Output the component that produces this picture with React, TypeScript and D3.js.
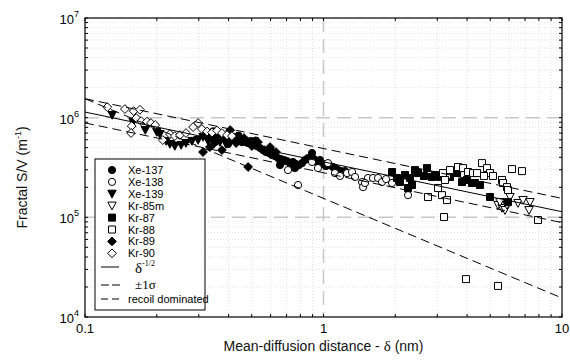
import React from 'react';
import * as d3 from 'd3';

type Pt = [number, number];

// Mean-diffusion distance δ (nm), Fractal S/V (m^-1)
const xe137: Pt[] = [
  [0.322, 6.85e5], [0.331, 6.24e5], [0.341, 7.01e5], [0.351, 6.39e5], [0.361, 6.69e5],
  [0.372, 6.10e5], [0.383, 6.54e5], [0.394, 6.24e5], [0.406, 5.96e5], [0.417, 6.39e5],
  [0.430, 5.83e5], [0.442, 6.10e5], [0.455, 5.69e5], [0.469, 5.96e5], [0.483, 5.56e5],
  [0.497, 5.83e5], [0.511, 5.44e5], [0.526, 5.19e5], [0.542, 4.96e5], [0.558, 4.73e5],
  [0.574, 4.52e5], [0.591, 4.42e5], [0.608, 4.22e5], [0.626, 4.12e5], [0.645, 3.93e5],
  [0.663, 3.84e5], [0.683, 3.76e5], [0.703, 3.67e5], [0.724, 3.50e5], [0.745, 3.59e5],
  [0.767, 3.42e5], [0.789, 3.35e5], [0.813, 3.50e5], [0.836, 3.76e5], [0.861, 3.93e5],
  [0.886, 4.03e5], [0.912, 3.84e5], [0.939, 3.59e5], [0.967, 3.76e5], [1.0, 3.42e5],
  [1.024, 3.27e5], [1.055, 3.35e5], [1.096, 3.20e5], [1.139, 3.05e5], [1.184, 2.91e5],
  [1.231, 2.91e5], [0.895, 4.42e5], [0.657, 3.35e5], [0.759, 3.12e5], [0.351, 5.69e5],
  [0.398, 5.44e5], [0.345, 7.3e5], [0.44, 6.6e5], [0.52, 5.9e5], [0.6, 4.8e5],
];
const xe138: Pt[] = [
  [0.710, 2.98e5], [0.782, 2.11e5], [0.895, 3.59e5], [1.044, 3.50e5], [1.117, 2.78e5],
  [1.255, 2.78e5], [1.317, 2.85e5], [1.356, 2.54e5], [1.451, 2.26e5], [1.465, 2.01e5],
  [1.537, 2.48e5], [1.613, 2.48e5], [1.693, 2.48e5], [1.759, 2.26e5], [1.938, 2.21e5],
  [2.262, 1.67e5], [0.948, 3.12e5], [1.173, 2.60e5], [1.829, 2.42e5], [1.493, 2.21e5],
];
const xe139: Pt[] = [
  [0.130, 1.062e6], [0.159, 9.04e5], [0.179, 7.51e5], [0.200, 7.17e5], [0.206, 6.85e5],
  [0.219, 5.83e5], [0.227, 5.44e5], [0.238, 5.19e5], [0.253, 5.31e5], [0.265, 5.56e5],
  [0.281, 5.83e5], [0.298, 5.96e5], [0.3125, 6.39e5], [0.328, 5.83e5], [0.348, 5.44e5],
  [0.368, 5.69e5], [0.390, 5.44e5],
];
const kr85m: Pt[] = [
  [5.391, 1.33e5], [5.604, 1.24e5], [5.768, 1.18e5], [6.053, 1.60e5], [6.54, 1.39e5],
  [6.864, 1.49e5], [7.342, 1.42e5], [7.272, 1.18e5], [5.496, 1.42e5], [5.88, 1.33e5],
];
const kr87: Pt[] = [
  [1.938, 2.85e5], [2.033, 2.48e5], [2.093, 2.26e5], [2.197, 2.66e5], [2.305, 2.48e5],
  [2.35, 2.11e5], [2.262, 1.97e5], [2.419, 2.98e5], [2.491, 2.78e5], [2.716, 3.12e5],
  [2.851, 2.54e5], [2.935, 2.66e5], [3.08, 2.54e5], [3.392, 2.54e5], [3.629, 2.78e5],
  [3.809, 2.26e5], [3.997, 2.37e5], [4.195, 2.21e5], [4.318, 2.21e5], [4.532, 2.11e5],
  [4.99, 1.60e5], [5.938, 1.42e5], [2.639, 2.60e5],
];
const kr88: Pt[] = [
  [2.743, 1.60e5], [3.021, 1.97e5], [3.14, 1.67e5], [3.295, 1.49e5], [3.202, 1.007e5],
  [3.295, 2.66e5], [3.17, 2.78e5], [3.392, 2.98e5], [3.664, 3.20e5], [3.846, 3.12e5],
  [4.036, 2.85e5], [4.236, 2.78e5], [4.402, 2.78e5], [4.619, 3.50e5], [4.848, 3.12e5],
  [4.99, 2.78e5], [5.136, 2.60e5], [5.604, 2.37e5], [5.658, 2.21e5], [5.88, 2.01e5],
  [5.938, 1.88e5], [6.17, 3.05e5], [6.798, 2.91e5], [7.933, 9.4e4], [3.958, 2.40e4],
  [5.391, 2.05e4], [3.233, 2.37e5], [4.71, 2.60e5],
];
const kr89: Pt[] = [
  [0.3125, 4.52e5], [0.483, 3.20e5], [0.430, 5.56e5], [0.464, 6.24e5], [0.501, 5.19e5],
  [0.531, 5.69e5], [0.563, 4.73e5], [0.597, 5.07e5], [0.334, 5.07e5], [0.375, 4.73e5],
  [0.632, 4.52e5], [0.406, 7.51e5],
];
const kr90: Pt[] = [
  [0.124, 1.277e6], [0.147, 1.22e6], [0.160, 1.164e6], [0.170, 1.20e6], [0.157, 8.24e5],
  [0.156, 7.01e5], [0.164, 9.91e5], [0.172, 9.25e5], [0.182, 9.14e5], [0.189, 8.83e5],
  [0.197, 8.43e5], [0.212, 5.96e5], [0.227, 6.85e5], [0.238, 6.54e5], [0.250, 6.69e5],
  [0.265, 7.01e5], [0.284, 8.05e5], [0.298, 8.83e5], [0.309, 7.69e5], [0.325, 7.26e5],
  [0.341, 7.09e5], [0.358, 7.43e5], [0.375, 7.01e5], [0.394, 6.69e5], [0.413, 6.54e5],
];

const seriesNames = ['Xe-137', 'Xe-138', 'Xe-139', 'Kr-85m', 'Kr-87', 'Kr-88', 'Kr-89', 'Kr-90'];
const seriesData = [xe137, xe138, xe139, kr85m, kr87, kr88, kr89, kr90];
const seriesShapes = ['circle', 'circle', 'tri', 'tri', 'square', 'square', 'diamond', 'diamond'];
const seriesFilled = [true, false, true, false, true, false, true, false];

// fitted curves: S = coef * δ^exp
const fitCoef = [3.6e5, 4.9e5, 2.8e5, 1.55e5];
const fitExp = [-0.5, -0.5, -0.5, -1];
const fitDash = ['none', '9,5', '9,5', '9,5'];

const xTicks = [0.1, 1, 10];
const xTickLabels = ['0.1', '1', '10'];
const yTicks = [1e4, 1e5, 1e6, 1e7];
const yTickExps = ['4', '5', '6', '7'];

const SANS = 'Arial, "Liberation Sans", Helvetica, sans-serif';
const SERIF = '"Times New Roman", "Liberation Serif", serif';

function shapePath(shape: string, cx: number, cy: number): string {
  if (shape === 'circle') {
    const r = 3.6;
    return `M${cx - r},${cy}a${r},${r} 0 1,0 ${2 * r},0a${r},${r} 0 1,0 ${-2 * r},0Z`;
  }
  if (shape === 'square') {
    const h = 3.5;
    return `M${cx - h},${cy - h}h${2 * h}v${2 * h}h${-2 * h}Z`;
  }
  if (shape === 'tri') {
    const w = 4.2, h = 3.6;
    return `M${cx - w},${cy - h}L${cx + w},${cy - h}L${cx},${cy + h + 0.6}Z`;
  }
  const d = 4.4;
  return `M${cx},${cy - d}L${cx + d},${cy}L${cx},${cy + d}L${cx - d},${cy}Z`;
}

export default function App() {
  const W = 570, H = 360;
  const L = 85, R = 562, T = 18, B = 317;
  const x = d3.scaleLog().domain([0.1, 10]).range([L, R]);
  const y = d3.scaleLog().domain([1e4, 1e7]).range([B, T]);

  const xAll = x.ticks();
  const yAll = y.ticks();
  const xMinor = xAll.filter((v) => !xTicks.some((t) => Math.abs(t - v) / t < 1e-6));
  const yMinor = yAll.filter((v) => !yTicks.some((t) => Math.abs(t - v) / t < 1e-6));

  const fitPath = (k: number) => {
    const xs = [0.1, 10];
    return d3
      .line<number>()
      .x((d) => x(d))
      .y((d) => y(fitCoef[k] * Math.pow(d, fitExp[k])))(xs) as string;
  };

  const legX = 95, legY = 159, legW = 110, legH = 151;
  const rowY = (i: number) => 170 + i * 11.9;

  return (
    <svg width={W} height={H} style={{ position: 'absolute', left: 0, top: 0, display: 'block', background: '#fff' }}>
      <defs>
        <clipPath id="plotclip">
          <rect x={L} y={T} width={R - L} height={B - T} />
        </clipPath>
      </defs>
      <rect x={0} y={0} width={W} height={H} fill="#fff" />
      {/* minor dotted grid */}
      <g stroke="#e0e0e0" strokeWidth={1} strokeDasharray="1,2">
        {xMinor.map((v, i) => (
          <line key={'gx' + i} x1={x(v)} x2={x(v)} y1={T} y2={B} />
        ))}
        {yMinor.map((v, i) => (
          <line key={'gy' + i} x1={L} x2={R} y1={y(v)} y2={y(v)} />
        ))}
      </g>
      {/* major dashed grid */}
      <g stroke="#c8c8c8" strokeWidth={1.5} strokeDasharray="14,7">
        {xTicks.slice(1, -1).map((v, i) => (
          <line key={'mx' + i} x1={x(v)} x2={x(v)} y1={T} y2={B} />
        ))}
        {yTicks.slice(1, -1).map((v, i) => (
          <line key={'my' + i} x1={L} x2={R} y1={y(v)} y2={y(v)} />
        ))}
      </g>
      {/* minor ticks, inside, all four sides */}
      <g stroke="#000" strokeWidth={1}>
        {xAll.map((v, i) => (
          <g key={'tx' + i}>
            <line x1={x(v)} x2={x(v)} y1={B} y2={B - 3} />
            <line x1={x(v)} x2={x(v)} y1={T} y2={T + 3} />
          </g>
        ))}
        {yAll.map((v, i) => (
          <g key={'ty' + i}>
            <line x1={L} x2={L + 3} y1={y(v)} y2={y(v)} />
            <line x1={R} x2={R - 3} y1={y(v)} y2={y(v)} />
          </g>
        ))}
      </g>
      {/* data */}
      <g clipPath="url(#plotclip)">
        {seriesData.map((data, si) => (
          <g key={'s' + si} stroke="#000" strokeWidth={1} fill={seriesFilled[si] ? '#000' : '#fff'}>
            {data.map((p, pi) => (
              <path key={pi} d={shapePath(seriesShapes[si], x(p[0]), y(p[1]))} />
            ))}
          </g>
        ))}
        {fitCoef.map((_, k) => (
          <path
            key={'f' + k}
            d={fitPath(k)}
            fill="none"
            stroke="#000"
            strokeWidth={1}
            strokeDasharray={fitDash[k] === 'none' ? undefined : fitDash[k]}
          />
        ))}
      </g>
      {/* frame */}
      <rect x={L} y={T} width={R - L} height={B - T} fill="none" stroke="#000" strokeWidth={1.2} />
      {/* tick labels */}
      <g fontFamily={SANS} fontSize={13} fill="#000">
        {xTicks.map((v, i) => (
          <text key={'xl' + i} x={x(v)} y={B + 16} textAnchor="middle">
            {xTickLabels[i]}
          </text>
        ))}
        {yTicks.map((v, i) => (
          <text key={'yl' + i} x={79} y={y(v) + 6} textAnchor="end">
            10
            <tspan dy={-7} fontSize={9}>
              {yTickExps[i]}
            </tspan>
          </text>
        ))}
      </g>
      {/* axis titles */}
      <text x={(L + R) / 2} y={351} textAnchor="middle" fontFamily={SANS} fontSize={14} fill="#111">
        Mean-diffusion distance -{' '}
        <tspan fontFamily={SERIF} fontSize={15}>
          δ
        </tspan>{' '}
        (nm)
      </text>
      <text
        transform={`translate(27,${(T + B) / 2 + 10}) rotate(-90)`}
        textAnchor="middle"
        fontFamily={SANS}
        fontSize={14}
        fill="#111"
      >
        Fractal S/V (m
        <tspan dy={-6} fontSize={9}>
          -1
        </tspan>
        <tspan dy={6}>)</tspan>
      </text>
      {/* legend */}
      <g>
        <rect x={legX} y={legY} width={legW} height={legH} fill="#fff" stroke="#000" strokeWidth={1} />
        {seriesNames.map((nm, i) => (
          <g key={'lg' + i}>
            <path
              d={shapePath(seriesShapes[i], 112, rowY(i))}
              stroke="#000"
              strokeWidth={1}
              fill={seriesFilled[i] ? '#000' : '#fff'}
            />
            <text x={128} y={rowY(i) + 4} fontFamily={SANS} fontSize={11} fill="#000">
              {nm}
            </text>
          </g>
        ))}
        <line x1={101} x2={119} y1={267} y2={267} stroke="#000" strokeWidth={1} />
        <text x={135} y={273} fontFamily={SERIF} fontSize={15} fill="#000">
          δ
          <tspan dy={-7} fontSize={8}>
            -1/2
          </tspan>
        </text>
        <line x1={101} x2={120} y1={285} y2={285} stroke="#000" strokeWidth={1} strokeDasharray="8,3" />
        <text x={135} y={289} fontFamily={SERIF} fontSize={13} fill="#000">
          ±1σ
        </text>
        <line x1={101} x2={120} y1={299} y2={299} stroke="#000" strokeWidth={1} strokeDasharray="7,4" />
        <text x={128} y={303} fontFamily={SANS} fontSize={11} fill="#000">
          recoil dominated
        </text>
      </g>
    </svg>
  );
}
